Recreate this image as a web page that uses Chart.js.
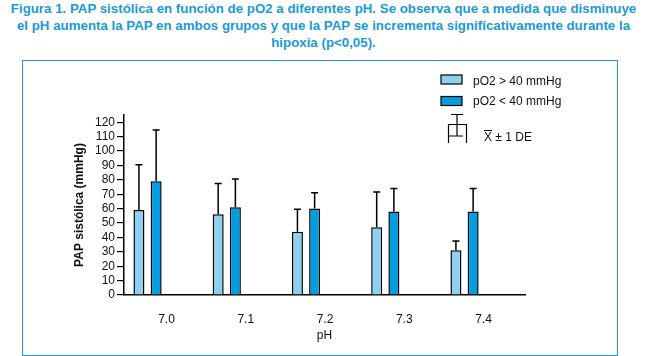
<!DOCTYPE html>
<html>
<head>
<meta charset="utf-8">
<script src="https://cdn.jsdelivr.net/npm/chart.js@4/dist/chart.umd.min.js"></script>
<style>
  body { margin: 0; width: 647px; height: 356px; position: relative; background: #fff; overflow: hidden; }
  #titulo {
    position: absolute; left: 0; top: 0; width: 647px; text-align: center;
    font: bold 13.3px "Liberation Sans", Arial, sans-serif; line-height: 17px;
    color: #1a9ad6; white-space: nowrap;
  }
  #caja {
    position: absolute; left: 22px; top: 60px; width: 596px; height: 296px;
    box-sizing: border-box; border: 1.5px solid #1e96d8;
  }
  #grafico { position: absolute; left: 0; top: 0; }
</style>
</head>
<body>
<div id="titulo">Figura 1. PAP sistólica en función de pO2 a diferentes pH. Se observa que a medida que disminuye<br>el pH aumenta la PAP en ambos grupos y que la PAP se incrementa significativamente durante la<br>hipoxia (p&lt;0,05).</div>
<div id="caja"></div>
<canvas id="grafico" width="647" height="356"></canvas>
<script>
// valores leidos da figura
var ph = [7.0, 7.1, 7.2, 7.3, 7.4];
var mediaNormoxia = [59, 56, 44, 47, 31];   // pO2 > 40 mmHg
var deNormoxia = [31.5, 21.5, 15.5, 24.5, 6.5];
var mediaHipoxia = [79, 61, 60, 58, 58];    // pO2 < 40 mmHg
var deHipoxia = [35.5, 19.5, 11, 16, 16];
var yTicks = [0, 10, 20, 30, 40, 50, 60, 70, 80, 90, 100, 110, 120];
var fonte = '"Liberation Sans", Arial, sans-serif';

var erros = [deNormoxia, deHipoxia];

// barras de erro (so para cima) desenhadas sobre as barras
var pluginErros = {
  id: 'erros',
  afterDatasetsDraw: function (chart) {
    var ctx = chart.ctx;
    var y = chart.scales.y;
    ctx.save();
    ctx.strokeStyle = '#000';
    ctx.lineWidth = 1.5;
    chart.data.datasets.forEach(function (ds, di) {
      var meta = chart.getDatasetMeta(di);
      meta.data.forEach(function (bar, i) {
        var topo = y.getPixelForValue(ds.data[i].y + erros[di][i]);
        ctx.beginPath();
        ctx.moveTo(bar.x, bar.y);
        ctx.lineTo(bar.x, topo);
        ctx.moveTo(bar.x - 3.5, topo);
        ctx.lineTo(bar.x + 3.5, topo);
        ctx.stroke();
      });
    });
    ctx.restore();
  }
};

// legenda feita a mao, como na figura
var pluginLegenda = {
  id: 'legenda',
  afterDraw: function (chart) {
    var ctx = chart.ctx;
    var ds = chart.data.datasets;
    ctx.save();
    ctx.lineWidth = 1.2;
    ctx.strokeStyle = '#000';
    ctx.font = '12px ' + fonte;
    ctx.textBaseline = 'middle';
    ctx.fillStyle = ds[0].backgroundColor;
    ctx.fillRect(441, 75, 21, 9);
    ctx.strokeRect(441, 75, 21, 9);
    ctx.fillStyle = ds[1].backgroundColor;
    ctx.fillRect(441, 96.5, 21, 9);
    ctx.strokeRect(441, 96.5, 21, 9);
    ctx.fillStyle = '#111';
    ctx.fillText(ds[0].label, 473, 82);
    ctx.fillText(ds[1].label, 473, 102);

    // simbolo media +- DE
    ctx.beginPath();
    ctx.moveTo(451, 114.5); ctx.lineTo(463, 114.5);
    ctx.moveTo(457, 114.5); ctx.lineTo(457, 136);
    ctx.moveTo(448.5, 143); ctx.lineTo(448.5, 124.5); ctx.lineTo(466.5, 124.5); ctx.lineTo(466.5, 143);
    ctx.moveTo(448.5, 136); ctx.lineTo(463, 136);
    ctx.stroke();
    ctx.fillText('X \u00B1 1 DE', 484, 138);
    ctx.beginPath();
    ctx.lineWidth = 1;
    ctx.moveTo(484, 130.5); ctx.lineTo(492, 130.5);
    ctx.stroke();
    ctx.restore();
  }
};

var config = {
  type: 'bar',
  data: {
    datasets: [
      {
        label: 'pO2 > 40 mmHg',
        data: ph.map(function (x, i) { return { x: x, y: mediaNormoxia[i] }; }),
        backgroundColor: '#8fd0f2',
        borderColor: '#000',
        borderWidth: 1.5,
        categoryPercentage: 0.434,
        barPercentage: 0.64
      },
      {
        label: 'pO2 < 40 mmHg',
        data: ph.map(function (x, i) { return { x: x, y: mediaHipoxia[i] }; }),
        backgroundColor: '#009de0',
        borderColor: '#000',
        borderWidth: 1.5,
        categoryPercentage: 0.434,
        barPercentage: 0.64
      }
    ]
  },
  options: {
    responsive: false,
    animation: false,
    devicePixelRatio: 1,
    layout: { padding: { left: 66, right: 122, top: 115, bottom: 5 } },
    plugins: { legend: { display: false }, tooltip: { enabled: false } },
    scales: {
      x: {
        type: 'linear',
        offset: false,
        min: 6.9703,
        max: 7.4763,
        afterBuildTicks: function (scale) {
          scale.ticks = ph.map(function (v) { return { value: v }; });
        },
        afterFit: function (scale) { scale.height = 56; },
        grid: { display: false, drawTicks: false },
        border: { display: true, color: '#000', width: 1.5 },
        ticks: {
          autoSkip: false,
          maxRotation: 0,
          padding: 17,
          labelOffset: 19,
          color: '#111',
          font: { family: fonte, size: 12 },
          callback: function (v) { return Number(v).toFixed(1); }
        },
        title: {
          display: true,
          text: 'pH',
          color: '#111',
          font: { family: fonte, size: 12 },
          padding: { top: 0, bottom: 8 }
        }
      },
      y: {
        min: 0,
        max: 125,
        afterBuildTicks: function (scale) {
          scale.ticks = yTicks.map(function (v) { return { value: v }; });
        },
        afterFit: function (scale) { scale.width = 58; },
        grid: { drawOnChartArea: false, drawTicks: true, tickLength: 7, color: '#000', lineWidth: 1.2 },
        border: { display: true, color: '#000', width: 1.5 },
        ticks: {
          autoSkip: false,
          padding: 2,
          color: '#111',
          font: { family: fonte, size: 12 }
        },
        title: {
          display: true,
          text: 'PAP sistólica (mmHg)',
          color: '#111',
          font: { family: fonte, size: 12, weight: 'bold' },
          padding: { top: 6, bottom: 0 }
        }
      }
    }
  },
  plugins: [pluginErros, pluginLegenda]
};

var meuGrafico = new Chart(document.getElementById('grafico'), config);
</script>
</body>
</html>
